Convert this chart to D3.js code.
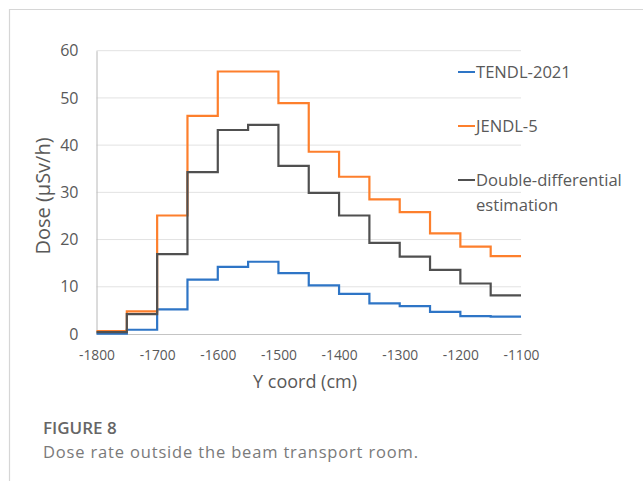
<!DOCTYPE html>
<html>
<head>
<meta charset="utf-8">
<script src="https://cdn.jsdelivr.net/npm/d3@7"></script>
<style>
  html, body { margin: 0; padding: 0; background: #fff; }
  svg { display: block; }
</style>
</head>
<body>
<svg id="chart" width="643" height="481"></svg>
<script>
// Bin edges along the Y coordinate (cm); each series holds one dose value per bin.
const binEdges = [-1800, -1750, -1700, -1650, -1600, -1550, -1500, -1450,
                  -1400, -1350, -1300, -1250, -1200, -1150, -1100];
const tendl2021 = [0.1, 0.9, 5.2, 11.5, 14.2, 15.3, 12.9, 10.3, 8.5, 6.5, 5.9, 4.7, 3.8, 3.7];
const jendl5 = [0.6, 4.8, 25.1, 46.2, 55.6, 55.6, 48.9, 38.6, 33.3, 28.5, 25.8, 21.3, 18.5, 16.5];
const doubleDiff = [0.4, 4.2, 16.9, 34.3, 43.2, 44.3, 35.6, 29.9, 25.1, 19.3, 16.4, 13.6, 10.7, 8.2];
const xTicks = [-1800, -1700, -1600, -1500, -1400, -1300, -1200, -1100];
const yTicks = [0, 10, 20, 30, 40, 50, 60];
const seriesNames = ["TENDL-2021", "JENDL-5", "Double-differential estimation"];
const seriesColors = ["#2e75c6", "#fd7f2c", "#505050"];

const svg = d3.select("#chart");
const font = "'Open Sans', 'DejaVu Sans', sans-serif";

// Panel frame
svg.append("path")
  .attr("d", "M9.5,481 V9.5 H643")
  .attr("fill", "none").attr("stroke", "#d6d6d6").attr("stroke-width", 1.2);

const x = d3.scaleLinear().domain([-1800, -1100]).range([96.5, 521]);
const y = d3.scaleLinear().domain([0, 60]).range([334, 50.7]);

// Horizontal gridlines
svg.append("g").selectAll("line").data(yTicks.filter(t => t > 0)).join("line")
  .attr("x1", x(-1800)).attr("x2", x(-1100))
  .attr("y1", d => y(d)).attr("y2", d => y(d))
  .attr("stroke", "#e2e2e2").attr("stroke-width", 1);

// Y axis
const yAxis = svg.append("g")
  .attr("transform", `translate(${x(-1800)},0)`)
  .call(d3.axisLeft(y).tickValues(yTicks).tickSize(0).tickPadding(18));
yAxis.select(".domain").attr("stroke", "#b8b8b8");
yAxis.selectAll("text").attr("font-family", font).attr("font-size", 16).attr("fill", "#595959");

// X axis (plain hyphen-minus labels)
const xAxis = svg.append("g")
  .attr("transform", `translate(0,${y(0)})`)
  .call(d3.axisBottom(x).tickValues(xTicks).tickSize(0).tickPadding(16).tickFormat(d => String(d)));
xAxis.select(".domain").attr("stroke", "#c4c4c4");
xAxis.selectAll("text").attr("font-family", font).attr("font-size", 13.8).attr("fill", "#595959");

// Axis titles
svg.append("text")
  .attr("x", 305).attr("y", 388)
  .attr("text-anchor", "middle")
  .attr("font-family", font).attr("font-size", 18).attr("fill", "#595959")
  .text("Y coord (cm)");
svg.append("text")
  .attr("transform", "translate(50,196) rotate(-90)")
  .attr("text-anchor", "middle")
  .attr("font-family", font).attr("font-size", 20).attr("fill", "#595959")
  .text("Dose (µSv/h)");

// Step lines
const stepLine = d3.line()
  .x(d => x(d[0])).y(d => y(d[1]))
  .curve(d3.curveStepAfter);
const allSeries = [tendl2021, jendl5, doubleDiff];
allSeries.forEach((vals, i) => {
  const pts = vals.map((v, k) => [binEdges[k], v]);
  pts.push([binEdges[binEdges.length - 1], vals[vals.length - 1]]);
  svg.append("path")
    .datum(pts)
    .attr("fill", "none")
    .attr("stroke", seriesColors[i])
    .attr("stroke-width", 2.2)
    .attr("d", stepLine);
});

// Legend
const legendRows = [
  { lines: ["TENDL-2021"], y: 72 },
  { lines: ["JENDL-5"], y: 126 },
  { lines: ["Double-differential", "estimation"], y: 180 }
];
legendRows.forEach((row, i) => {
  svg.append("line")
    .attr("x1", 458).attr("x2", 475)
    .attr("y1", row.y).attr("y2", row.y)
    .attr("stroke", seriesColors[i]).attr("stroke-width", 2);
  const t = svg.append("text")
    .attr("x", 476).attr("y", row.y + 6)
    .attr("font-family", font).attr("font-size", 16.6).attr("fill", "#595959");
  row.lines.forEach((ln, j) => {
    t.append("tspan").attr("x", 476).attr("dy", j === 0 ? 0 : 25).text(ln);
  });
});

// Caption
svg.append("text")
  .attr("x", 43).attr("y", 434)
  .attr("font-family", font).attr("font-size", 17)
  .attr("font-weight", 600).attr("fill", "#666")
  .text("FIGURE 8");
svg.append("text")
  .attr("x", 43).attr("y", 457.5)
  .attr("font-family", font).attr("font-size", 16.5)
  .attr("fill", "#7a7a7a")
  .attr("textLength", 375).attr("lengthAdjust", "spacing")
  .text("Dose rate outside the beam transport room.");
</script>
</body>
</html>
